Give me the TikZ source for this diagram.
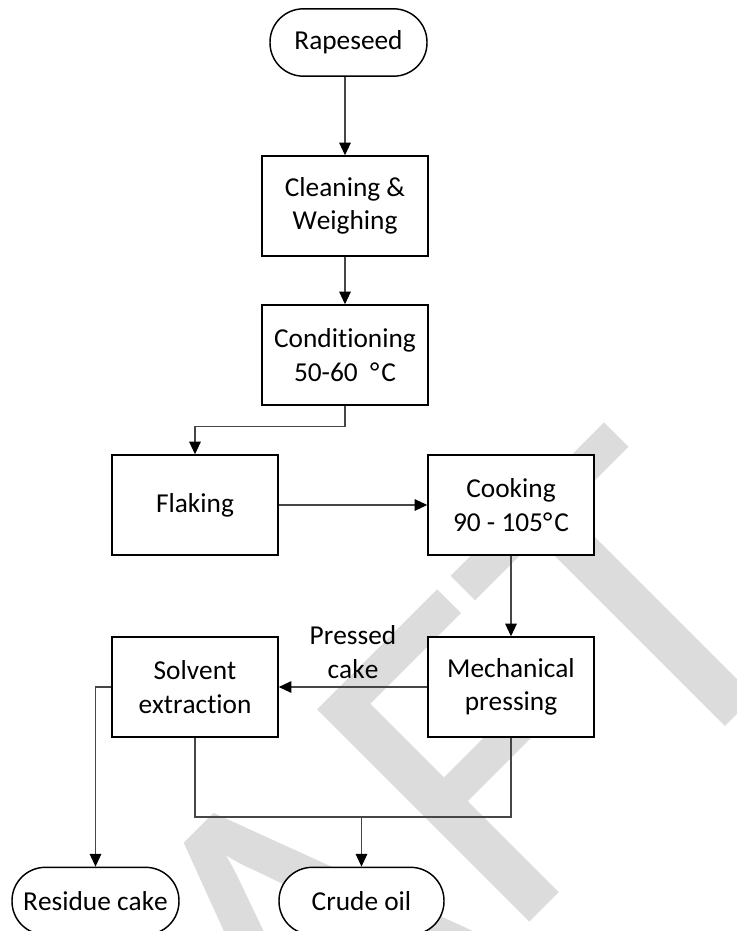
\documentclass[tikz,border=0pt]{standalone}
\usepackage{fontspec}
\setmainfont{Carlito}[Ligatures=NoCommon, Kerning=Off]
\usetikzlibrary{arrows.meta}
\definecolor{wmgray}{RGB}{220,220,220}
\definecolor{linegray}{RGB}{70,70,70}
\newcommand{\degC}{°\kern1.5pt C}
\begin{document}
\begin{tikzpicture}[x=0.75pt,y=-0.75pt,
  lbl/.style={font=\fontsize{20.5pt}{25pt}\selectfont, align=center},
  procbox/.style={lbl, draw=black, line width=1.1pt, fill=white,
    minimum width=124.5pt, minimum height=75pt, inner sep=0pt},
  termbox/.style={lbl, draw=black, line width=1.1pt, fill=white,
    rounded corners=25pt, minimum height=50.5pt, inner sep=0pt},
  flow/.style={draw=linegray, line width=0.8pt,
    -{Triangle[length=9.5pt,width=8.7pt,color=black]}},
  link/.style={draw=linegray, line width=0.8pt}]

\useasboundingbox (0,0) rectangle (736,931);

% watermark behind the chart
\begin{scope}
  \clip (0,0) rectangle (736,931);
  \node[rotate=45, anchor=base east, inner sep=0pt, text=wmgray,
        font=\fontsize{351pt}{351pt}\selectfont] (wm) at (820.7,631.4) {DRAFT};
\end{scope}

% process steps
\node[termbox, minimum width=117.75pt] (rape) at (348.5,42.5) {Rapeseed};
\node[procbox] (clean) at (345,206) {Cleaning \&\\Weighing};
\node[procbox] (cond) at (345,355) {Conditioning\\50-60\ \ \degC};
\node[procbox] (flak) at (195,505) {Flaking};
\node[procbox] (cook) at (511,505) {Cooking\\90 - 105\degC};
\node[procbox] (mech) at (511,687) {Mechanical\\pressing};
\node[procbox] (solv) at (195,687) {Solvent\\extraction};
\node[termbox, minimum width=125.25pt] (resid) at (95.5,901) {Residue cake};
\node[termbox, minimum width=123.75pt] (crude) at (361.5,901) {Crude oil};
\node[lbl] (pcake) at (353,652) {Pressed\\cake};

\coordinate (jn) at (361.5,817);

% connectors
\draw[flow] (rape.south -| clean.north) -- (clean.north);
\draw[flow] (clean.south) -- (cond.north);
\draw[flow] (cond.south) -- ++(0,21) -| (flak.north);
\draw[flow] (flak.east) -- (cook.west);
\draw[flow] (cook.south) -- (mech.north);
\draw[flow] (mech.west) -- (solv.east);
\draw[flow] (solv.west) -| (resid.north);
\draw[link] (solv.south) -- (solv.south |- jn) -- (mech.south |- jn) -- (mech.south);
\draw[flow] (jn) -- (crude.north);
\end{tikzpicture}
\end{document}
